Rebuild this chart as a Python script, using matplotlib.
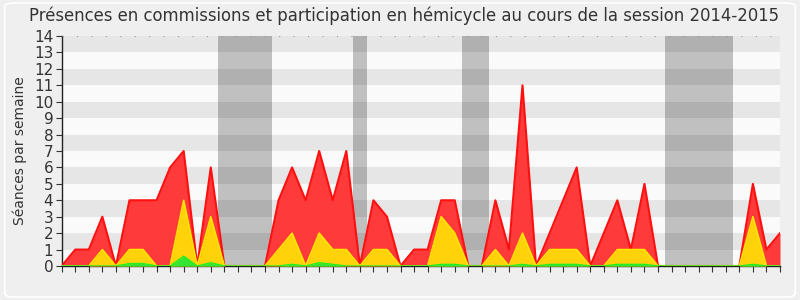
import matplotlib
matplotlib.use("Agg")
import matplotlib.pyplot as plt
from matplotlib.patches import FancyBboxPatch

# ---- data (weekly, 54 weeks of session 2014-2015) ----
weeks = list(range(54))
red = [0, 1, 1, 3, 0, 4, 4, 4, 6, 7,
       0, 6, 0, 0, 0, 0, 4, 6, 4, 7,
       4, 7, 0, 4, 3, 0, 1, 1, 4, 4,
       0, 0, 4, 1, 11, 0, 2, 4, 6, 0,
       2, 4, 1, 5, 0, 0, 0, 0, 0, 0,
       0, 5, 1, 2]
yellow = [0, 0, 0, 1, 0, 1, 1, 0, 0, 4,
          0, 3, 0, 0, 0, 0, 1, 2, 0, 2,
          1, 1, 0, 1, 1, 0, 0, 0, 3, 2,
          0, 0, 1, 0, 2, 0, 1, 1, 1, 0,
          0, 1, 1, 1, 0, 0, 0, 0, 0, 0,
          0, 3, 0, 0]
green = [0, 0, 0, 0, 0, 0.15, 0.15, 0, 0, 0.6,
         0, 0.2, 0, 0, 0, 0, 0, 0.1, 0, 0.2,
         0.1, 0, 0, 0, 0, 0, 0, 0, 0.1, 0.1,
         0, 0, 0, 0, 0.1, 0, 0.1, 0.1, 0.1, 0,
         0, 0.1, 0.1, 0.1, 0, 0, 0, 0, 0, 0,
         0, 0.1, 0, 0]
month_labels = ["Oct", "Nov", "Déc", "Jan 15", "Fév", "Mar", "Avr", "Mai",
                "Juin", "Juil", "Août", "Sept"]
month_weeks = [1, 6, 11, 15, 18, 22, 27, 31, 36, 40, 45, 50]
vacations = [(11.5, 15.5), (21.5, 22.5), (29.5, 31.5), (44.5, 49.5)]
ymax = 14

txt = "#333333"
fig = plt.figure(figsize=(8, 3), dpi=100, facecolor="#EFEFEF")
fig.patches.append(FancyBboxPatch((0.006, 0.01), 0.988, 0.98,
                                  boxstyle="round,pad=0,rounding_size=0.012",
                                  transform=fig.transFigure, facecolor="none",
                                  edgecolor="white", lw=1.2))
ax = fig.add_axes([61.7 / 800, 34 / 300, (780 - 61.7) / 800, 230 / 300])
ax.set_facecolor("#FAFAFA")

for i in range(ymax):
    ax.axhspan(i, i + 1, color="#FAFAFA" if i % 2 == 0 else "#E6E6E6", lw=0, zorder=0)
for a, b in vacations:
    ax.axvspan(a, b, color="black", alpha=0.23, lw=0, zorder=1)

ax.fill_between(weeks, red, color="#FF3A3A", lw=0, zorder=2)
ax.plot(weeks, red, color="#FF1010", lw=1.5, zorder=3)
ax.fill_between(weeks, yellow, color="#FFD20A", lw=0, zorder=4)
ax.plot(weeks, yellow, color="#FFE600", lw=1.2, zorder=5)
ax.fill_between(weeks, green, color="#33E633", lw=0, zorder=6)
ax.plot(weeks, green, color="#22EE22", lw=1.0, zorder=7)

ax.axhline(ymax, color="#999999", lw=0.8, ls=(0, (1, 12)), zorder=8)

ax.set_xlim(0, 53)
ax.set_ylim(0, ymax)
ax.set_yticks(range(ymax + 1))
ax.set_yticklabels([str(v) for v in range(ymax + 1)])
ax.set_xticks(weeks)
ax.set_xticklabels([])
ax.set_xticks(month_weeks, minor=True)
ax.set_xticklabels(month_labels, minor=True)
ax.tick_params(axis="x", which="major", length=4, color="#333333", direction="out")
ax.tick_params(axis="x", which="minor", length=0, pad=5, labelsize=11, labelcolor=txt)
ax.tick_params(axis="y", length=4, color="#333333", pad=2, labelsize=11, labelcolor=txt)
for s in ["top", "right"]:
    ax.spines[s].set_visible(False)
for s in ["left", "bottom"]:
    ax.spines[s].set_color("#222222")
    ax.spines[s].set_linewidth(1)

ax.set_ylabel("Séances par semaine", fontsize=10, color=txt, labelpad=5)
fig.text(0.505, 0.948, "Présences en commissions et participation en hémicycle au cours de la session 2014-2015",
         ha="center", va="center", fontsize=11.9, color=txt)

fig.savefig("out.png", dpi=100, facecolor=fig.get_facecolor())
